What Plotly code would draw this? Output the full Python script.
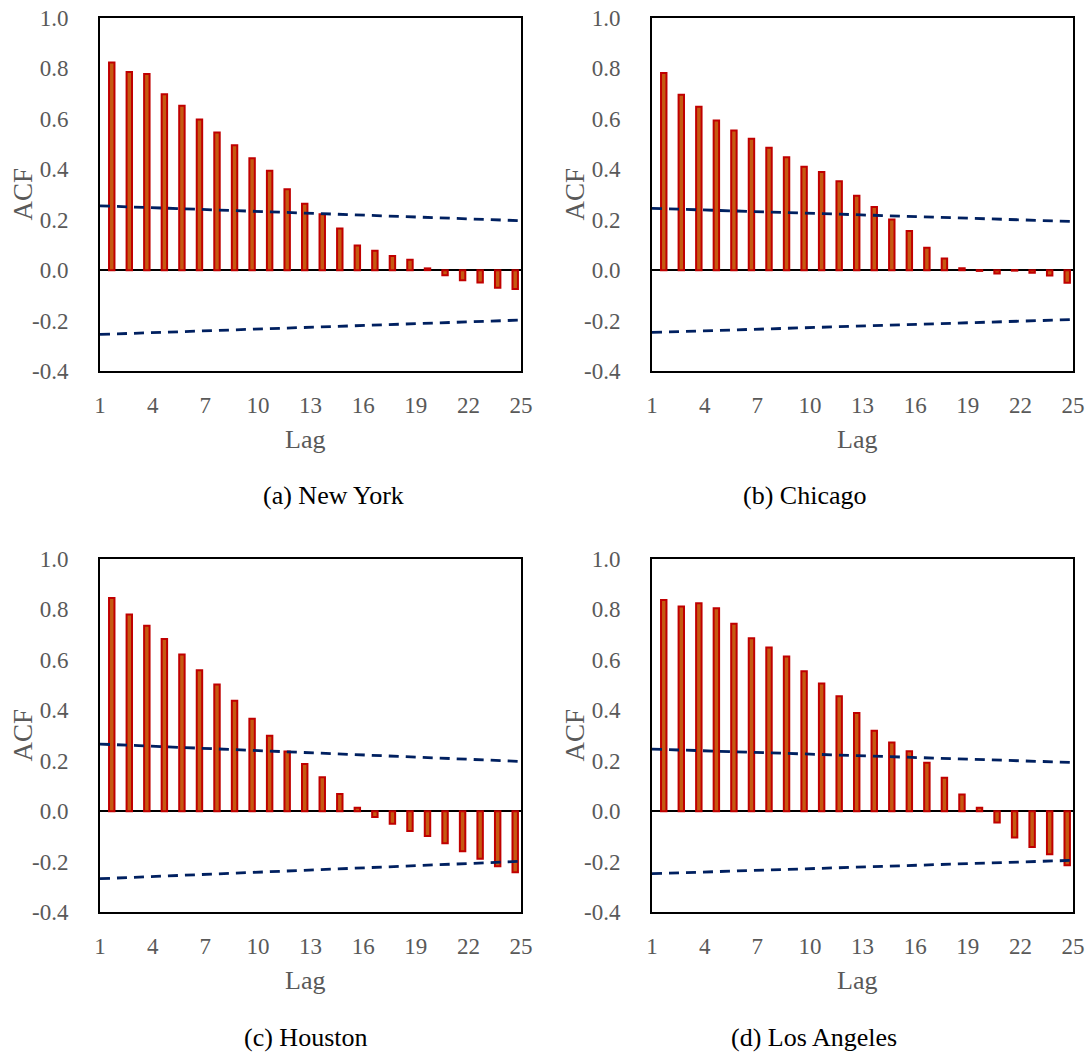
import plotly.graph_objects as go

# ---------------- data ----------------
lags = list(range(1, 25))
bound_lags = [1, 25]
tick_lags = [1, 4, 7, 10, 13, 16, 19, 22, 25]
y_ticks = [-0.4, -0.2, 0.0, 0.2, 0.4, 0.6, 0.8, 1.0]

ny_acf = [0.824, 0.786, 0.778, 0.698, 0.652, 0.597, 0.546, 0.495, 0.444, 0.394,
          0.321, 0.263, 0.222, 0.165, 0.098, 0.077, 0.056, 0.041, 0.007, -0.020,
          -0.040, -0.049, -0.070, -0.075]
ny_upper = [0.255, 0.196]
ny_lower = [-0.255, -0.198]

chi_acf = [0.782, 0.696, 0.648, 0.593, 0.554, 0.521, 0.485, 0.448, 0.410, 0.389,
           0.353, 0.295, 0.250, 0.201, 0.155, 0.089, 0.046, 0.008, -0.003, -0.013,
           -0.002, -0.010, -0.021, -0.050]
chi_upper = [0.245, 0.193]
chi_lower = [-0.247, -0.196]

hou_acf = [0.845, 0.780, 0.735, 0.683, 0.621, 0.559, 0.502, 0.438, 0.366, 0.299,
           0.237, 0.187, 0.134, 0.068, 0.013, -0.023, -0.050, -0.079, -0.099, -0.127,
           -0.159, -0.189, -0.219, -0.242]
hou_upper = [0.266, 0.197]
hou_lower = [-0.268, -0.199]

la_acf = [0.837, 0.812, 0.825, 0.805, 0.743, 0.686, 0.649, 0.613, 0.555, 0.506,
          0.456, 0.389, 0.319, 0.272, 0.238, 0.192, 0.132, 0.066, 0.013, -0.045,
          -0.105, -0.142, -0.171, -0.215]
la_upper = [0.246, 0.193]
la_lower = [-0.248, -0.195]

captions = ["(a) New York", "(b) Chicago", "(c) Houston", "(d) Los Angeles"]
panels = [
    (ny_acf, ny_upper, ny_lower),
    (chi_acf, chi_upper, chi_lower),
    (hou_acf, hou_upper, hou_lower),
    (la_acf, la_upper, la_lower),
]

# ---------------- layout geometry (pixels) ----------------
W, H = 1091, 1053
boxes = [  # left, right, top, bottom
    (100, 521, 18, 371),
    (652, 1073, 18, 371),
    (100, 521, 559, 912),
    (652, 1073, 559, 912),
]
caption_pos = [(333, 495), (804, 495), (305, 1037), (814, 1037)]


def px(x):
    return x / W


def py(y):
    return 1 - y / H


FONT = "Liberation Serif"
GREY = "#595959"
BAR_FILL = "#C55A11"
BAR_EDGE = "#C00000"
NAVY = "#002060"

fig = go.Figure()
layout = dict(
    width=W, height=H, margin=dict(l=0, r=0, t=0, b=0, pad=0, autoexpand=False),
    paper_bgcolor="white", plot_bgcolor="white", showlegend=False,
    font=dict(family=FONT, color=GREY),
)
annotations = []

for i, ((acf, up, lo), (l, r, t, b)) in enumerate(zip(panels, boxes)):
    xb = 2 * i + 1       # bar axis
    xl = 2 * i + 2       # line axis (ticks, border)
    yk = i + 1
    xb_name = "xaxis" if xb == 1 else f"xaxis{xb}"
    xl_name = f"xaxis{xl}"
    y_name = "yaxis" if yk == 1 else f"yaxis{yk}"
    xb_ref = "x" if xb == 1 else f"x{xb}"
    xl_ref = f"x{xl}"
    y_ref = "y" if yk == 1 else f"y{yk}"

    fig.add_trace(go.Bar(
        x=lags, y=acf, xaxis=xb_ref, yaxis=y_ref, width=0.31,
        marker=dict(color=BAR_FILL, line=dict(color=BAR_EDGE, width=2)),
    ))
    for bound in (up, lo):
        fig.add_trace(go.Scatter(
            x=bound_lags, y=bound, xaxis=xl_ref, yaxis=y_ref, mode="lines",
            line=dict(color=NAVY, width=2.8, dash="10px,7px"),
        ))

    dom_x = [px(l), px(r)]
    dom_y = [py(b), py(t)]
    layout[xb_name] = dict(
        domain=dom_x, anchor=y_ref, range=[0.33, 24.33], automargin=False,
        showticklabels=False, showgrid=False, zeroline=False, showline=False,
        ticks="",
    )
    layout[xl_name] = dict(
        domain=dom_x, anchor=y_ref, overlaying=xb_ref, range=[1, 25],
        automargin=False,
        tickmode="array", tickvals=tick_lags, ticktext=[str(v) for v in tick_lags],
        tickfont=dict(family=FONT, size=23, color=GREY), ticks="",
        ticklabelstandoff=12,
        showgrid=False, zeroline=False, showline=True, mirror=True,
        linecolor="black", linewidth=2, side="bottom",
    )
    layout[y_name] = dict(
        domain=dom_y, anchor=xl_ref, range=[-0.4, 1.0], automargin=False,
        tickmode="array", tickvals=y_ticks, ticktext=[f"{v:.1f}" for v in y_ticks],
        tickfont=dict(family=FONT, size=23, color=GREY), ticks="",
        ticklabelstandoff=25,
        showgrid=False, zeroline=True, zerolinecolor="black", zerolinewidth=1.5,
        showline=True, mirror=True, linecolor="black", linewidth=2,
    )

    # axis titles
    annotations.append(dict(
        text="ACF", x=px(l - 78), y=py((t + b) / 2), xref="paper", yref="paper",
        showarrow=False, textangle=-90, xanchor="center", yanchor="middle",
        font=dict(family=FONT, size=27, color=GREY),
    ))
    annotations.append(dict(
        text="Lag", x=px((l + r) / 2 - 6), y=py(b + 68), xref="paper", yref="paper",
        showarrow=False, xanchor="center", yanchor="middle",
        font=dict(family=FONT, size=26, color=GREY),
    ))
    cx, cy = caption_pos[i]
    annotations.append(dict(
        text=captions[i], x=px(cx), y=py(cy), xref="paper", yref="paper",
        showarrow=False, xanchor="center", yanchor="middle",
        font=dict(family=FONT, size=26, color="black"),
    ))

layout["annotations"] = annotations
fig.update_layout(**layout)
fig.write_html("out.html")
